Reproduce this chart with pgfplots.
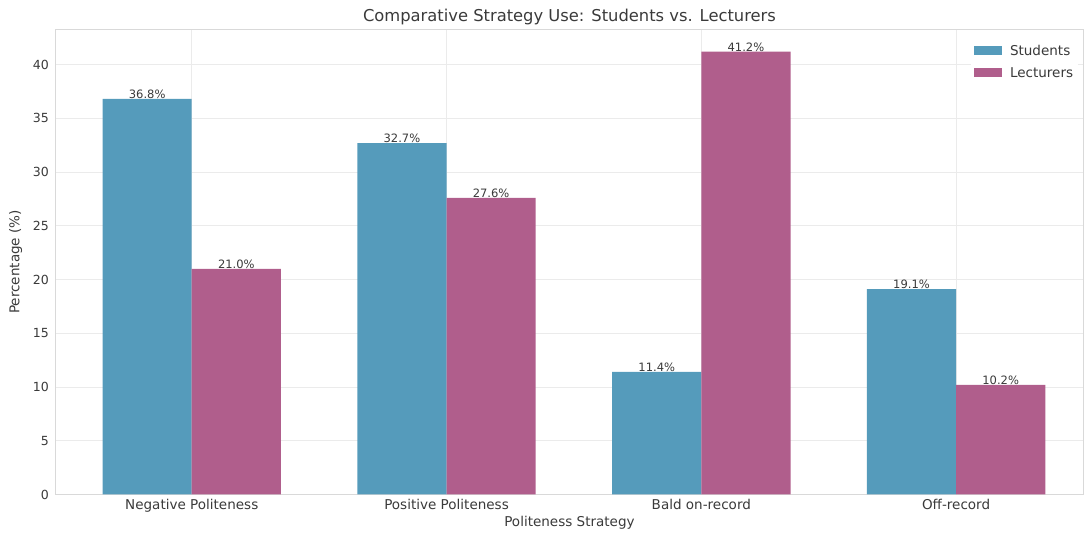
\documentclass[border=0pt]{standalone}
\usepackage{pgfplots}
\pgfplotsset{compat=1.18}
\usepackage{fontspec}
\setmainfont{DejaVu Sans}
\definecolor{stu}{HTML}{559BBB}
\definecolor{lec}{HTML}{B05E8C}
\definecolor{txt}{HTML}{3A3A3A}
\begin{document}
\begin{tikzpicture}
\begin{axis}[
  /pgf/number format/assume math mode=true,
  scale only axis, width=1026pt, height=464pt,
  xmin=-0.535, xmax=3.5, ymin=0, ymax=43.26,
  ybar, bar width=0.35,
  xtick={0,1,2,3},
  xticklabels={Negative Politeness, Positive Politeness, Bald on-record, Off-record},
  ytick={0,5,...,40},
  grid=major, major grid style={black!8, line width=0.8pt},
  axis line style={black!15, line width=1pt},
  major tick length=0pt,
  xticklabel style={font=\fontsize{13.5}{15}\selectfont, text=txt, yshift=-1pt},
  yticklabel style={font=\fontsize{12.5}{14}\selectfont, text=txt, xshift=-3pt},
  title={Comparative Strategy Use: Students vs. Lecturers},
  title style={font=\fontsize{16.3}{18}\selectfont, text=txt, inner ysep=9.5pt, yshift=-11.5pt},
  xlabel={Politeness Strategy}, ylabel={Percentage (\%)},
  label style={font=\fontsize{13.5}{15}\selectfont, text=txt},
  xlabel style={yshift=3pt},
  ylabel style={inner ysep=9pt, yshift=-1.7pt},
  nodes near coords={\pgfmathprintnumber[fixed,fixed zerofill,precision=1]{\pgfplotspointmeta}\%},
  nodes near coords style={font=\fontsize{11.5}{13}\selectfont, text=txt, inner sep=1pt, yshift=-1pt},
  legend style={at={(0.995,0.975)}, anchor=north east, draw=none, fill=white, font=\fontsize{13.5}{15}\selectfont, text=txt, row sep=6pt},
  legend cell align=left,
  legend image code/.code={\fill[#1] (0pt,-4pt) rectangle (28pt,5pt); \path[draw=none,fill=none] (0pt,0pt) -- (34pt,0pt);},
]
\addplot[fill=stu, draw=none, bar shift=-0.175] coordinates {(0,36.8) (1,32.7) (2,11.4) (3,19.1)};
\addplot[fill=lec, draw=none, bar shift=0.175] coordinates {(0,21.0) (1,27.6) (2,41.2) (3,10.2)};
\legend{Students, Lecturers}
\end{axis}
\end{tikzpicture}
\end{document}
